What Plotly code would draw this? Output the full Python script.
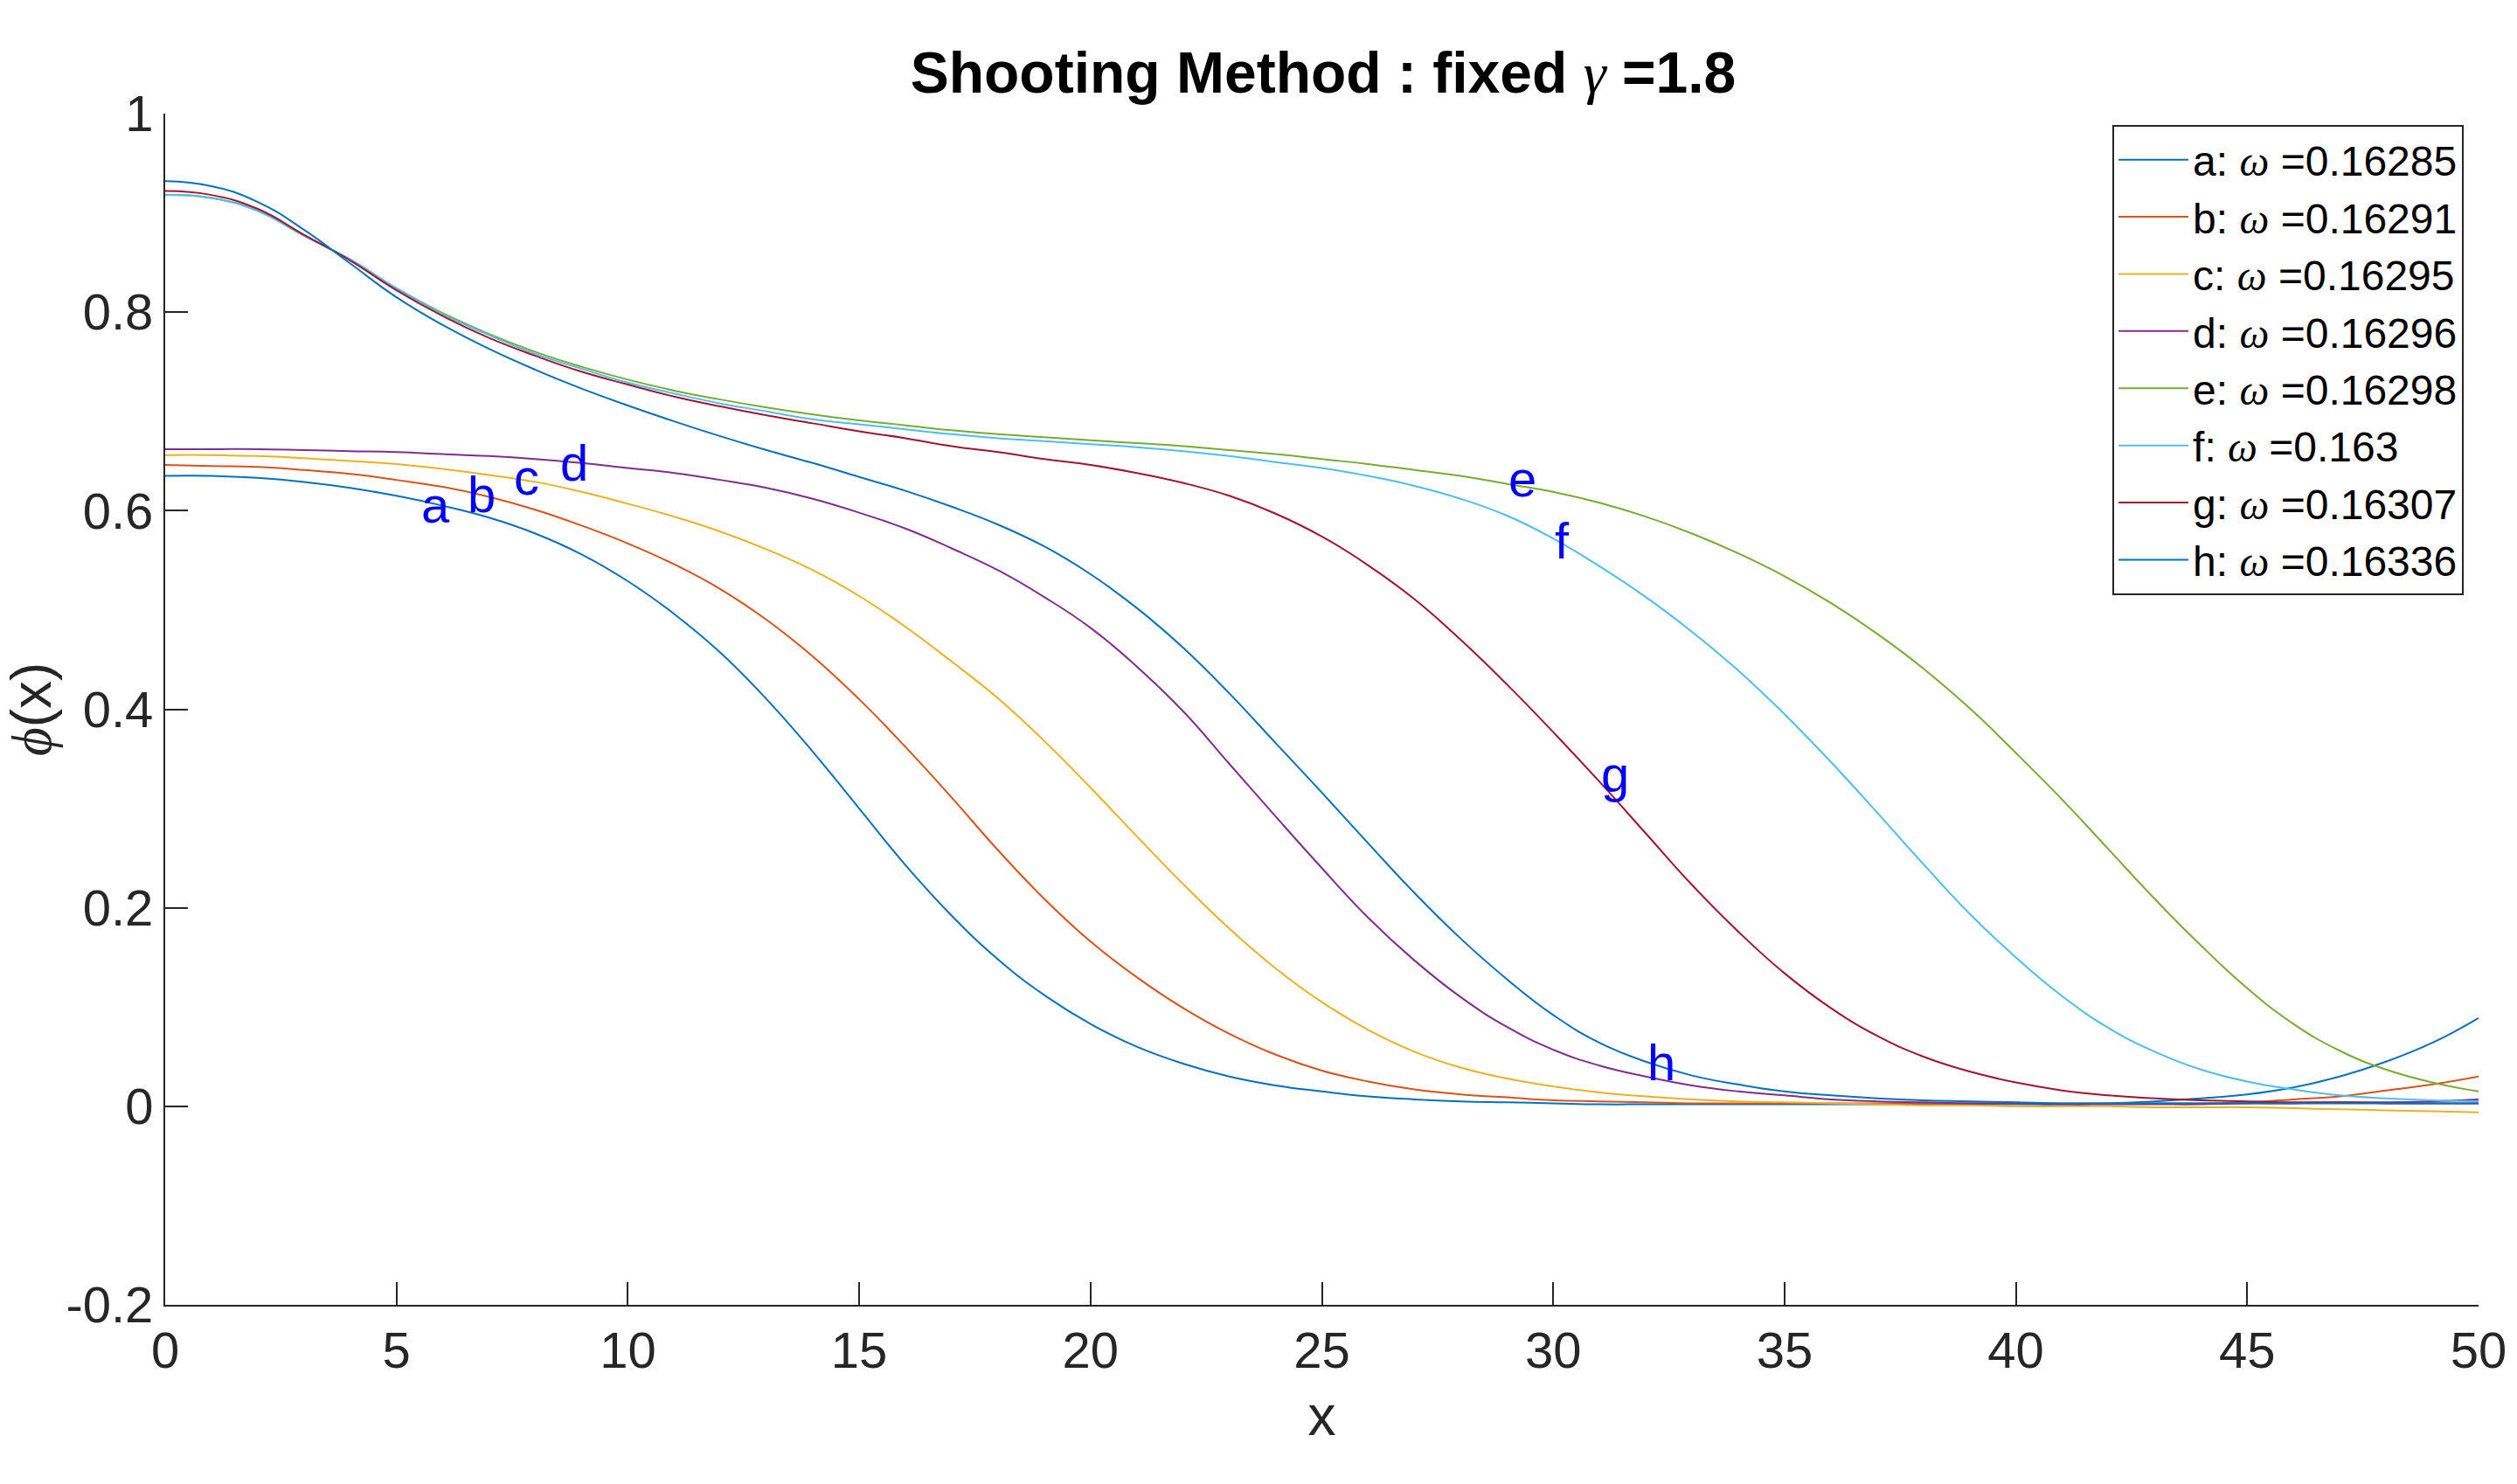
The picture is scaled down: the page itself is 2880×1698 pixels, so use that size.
import plotly.graph_objects as go

# ---------------- data ----------------
x_vals = [0, 1, 2, 3, 4, 5, 6, 7, 8, 9, 10, 11, 12, 13, 14, 15, 16, 17, 18, 19, 20,
          21, 22, 23, 24, 25, 26, 27, 28, 29, 30, 31, 32, 33, 34, 35, 36, 37, 38, 39, 40,
          41, 42, 43, 44, 45, 46, 47, 48, 49, 50]

a_vals = [0.635, 0.635, 0.633, 0.629, 0.623, 0.615, 0.605, 0.593, 0.577, 0.556, 0.529,
          0.496, 0.457, 0.410, 0.357, 0.300, 0.243, 0.192, 0.148, 0.112, 0.083,
          0.060, 0.043, 0.030, 0.021, 0.015, 0.010, 0.007, 0.005, 0.004, 0.003,
          0.002, 0.002, 0.002, 0.002, 0.002, 0.002, 0.002, 0.002, 0.002, 0.002,
          0.002, 0.003, 0.005, 0.008, 0.012, 0.019, 0.030, 0.045, 0.064, 0.089]
b_vals = [0.646, 0.645, 0.644, 0.641, 0.637, 0.631, 0.624, 0.614, 0.601, 0.585, 0.567,
          0.546, 0.521, 0.490, 0.453, 0.410, 0.362, 0.311, 0.258, 0.209, 0.166,
          0.130, 0.099, 0.073, 0.052, 0.036, 0.025, 0.017, 0.012, 0.009, 0.006,
          0.005, 0.004, 0.003, 0.003, 0.003, 0.003, 0.003, 0.003, 0.003, 0.003,
          0.003, 0.003, 0.003, 0.003, 0.004, 0.007, 0.010, 0.016, 0.022, 0.030]
c_vals = [0.656, 0.656, 0.655, 0.653, 0.650, 0.647, 0.642, 0.636, 0.629, 0.619, 0.607,
          0.594, 0.579, 0.561, 0.540, 0.514, 0.483, 0.448, 0.411, 0.368, 0.321,
          0.272, 0.224, 0.179, 0.139, 0.105, 0.077, 0.055, 0.039, 0.028, 0.020,
          0.014, 0.010, 0.007, 0.005, 0.004, 0.003, 0.002, 0.001, 0.001, 0.000,
          0.000, 0.000, -0.001, -0.001, -0.001, -0.002, -0.003, -0.004, -0.005, -0.006]
d_vals = [0.662, 0.662, 0.662, 0.661, 0.660, 0.659, 0.657, 0.655, 0.652, 0.648, 0.643,
          0.638, 0.631, 0.623, 0.612, 0.598, 0.582, 0.562, 0.540, 0.513, 0.482,
          0.443, 0.398, 0.345, 0.292, 0.240, 0.190, 0.147, 0.110, 0.080, 0.057,
          0.041, 0.030, 0.021, 0.015, 0.011, 0.007, 0.005, 0.004, 0.003, 0.003,
          0.002, 0.002, 0.002, 0.002, 0.003, 0.003, 0.004, 0.004, 0.005, 0.007]
e_vals = [0.918, 0.915, 0.902, 0.877, 0.853, 0.824, 0.799, 0.778, 0.760, 0.745, 0.732,
          0.721, 0.712, 0.704, 0.697, 0.691, 0.686, 0.681, 0.677, 0.674, 0.671,
          0.668, 0.665, 0.661, 0.657, 0.652, 0.647, 0.641, 0.635, 0.627, 0.619,
          0.608, 0.594, 0.577, 0.557, 0.534, 0.507, 0.476, 0.441, 0.401, 0.356,
          0.309, 0.259, 0.209, 0.162, 0.119, 0.083, 0.056, 0.037, 0.024, 0.015]
f_vals = [0.918, 0.915, 0.902, 0.877, 0.853, 0.824, 0.798, 0.777, 0.758, 0.743, 0.729,
          0.718, 0.708, 0.700, 0.692, 0.687, 0.682, 0.677, 0.673, 0.670, 0.667,
          0.664, 0.660, 0.655, 0.649, 0.643, 0.635, 0.625, 0.612, 0.595, 0.572,
          0.544, 0.513, 0.478, 0.439, 0.395, 0.347, 0.296, 0.244, 0.194, 0.150,
          0.111, 0.079, 0.055, 0.037, 0.025, 0.017, 0.011, 0.008, 0.006, 0.005]
g_vals = [0.922, 0.918, 0.904, 0.878, 0.852, 0.822, 0.796, 0.774, 0.756, 0.740, 0.727,
          0.715, 0.705, 0.696, 0.688, 0.680, 0.673, 0.665, 0.659, 0.652, 0.646,
          0.638, 0.628, 0.615, 0.597, 0.574, 0.545, 0.511, 0.470, 0.425, 0.377,
          0.327, 0.275, 0.223, 0.176, 0.134, 0.099, 0.071, 0.050, 0.035, 0.024,
          0.016, 0.011, 0.008, 0.006, 0.005, 0.004, 0.004, 0.003, 0.003, 0.003]
h_vals = [0.932, 0.927, 0.911, 0.883, 0.849, 0.815, 0.787, 0.763, 0.742, 0.723, 0.706,
          0.690, 0.675, 0.661, 0.648, 0.634, 0.620, 0.604, 0.586, 0.564, 0.536,
          0.502, 0.462, 0.416, 0.366, 0.316, 0.265, 0.215, 0.169, 0.128, 0.092,
          0.064, 0.045, 0.031, 0.022, 0.015, 0.011, 0.008, 0.006, 0.005, 0.004,
          0.003, 0.003, 0.003, 0.003, 0.003, 0.003, 0.003, 0.003, 0.003, 0.003]

series_keys = ["a", "b", "c", "d", "e", "f", "g", "h"]
series_vals = [a_vals, b_vals, c_vals, d_vals, e_vals, f_vals, g_vals, h_vals]
omega_labels = ["0.16285", "0.16291", "0.16295", "0.16296", "0.16298", "0.163", "0.16307", "0.16336"]
series_colors = ["#0072BD", "#D95319", "#EDB120", "#7E2F8E", "#77AC30", "#4DBEEE", "#A2142F", "#0072BD"]

# curve tags written inside the plot
tag_text = ["a", "b", "c", "d", "e", "f", "g", "h"]
tag_x = [5.5, 6.5, 7.5, 8.5, 29, 30, 31, 32]
tag_y = [0.606, 0.617, 0.634, 0.648, 0.632, 0.570, 0.335, 0.044]

x_ticks = [0, 5, 10, 15, 20, 25, 30, 35, 40, 45, 50]
y_ticks = [-0.2, 0, 0.2, 0.4, 0.6, 0.8, 1]
y_tick_text = ["-0.2", "0", "0.2", "0.4", "0.6", "0.8", "1"]

# ---------------- figure ----------------
FONT = "Liberation Sans, Arial, Helvetica, sans-serif"
AXC = "#262626"


def tex(sym):
    """Greek symbol rendered italic in a serif face, like MATLAB's TeX interpreter."""
    return f"<span style='font-family:Liberation Serif, DejaVu Serif, serif'><i>{sym}</i></span>"


fig = go.Figure()
for key, vals, om, col in zip(series_keys, series_vals, omega_labels, series_colors):
    fig.add_trace(go.Scatter(
        x=x_vals, y=vals, mode="lines",
        line=dict(color=col, width=2, shape="spline", smoothing=1.3),
        name=f"{key}: {tex('ω')} ={om}",
    ))

for t, tx, ty in zip(tag_text, tag_x, tag_y):
    fig.add_annotation(x=tx, y=ty, text=t, showarrow=False, xanchor="left", yanchor="middle",
                       font=dict(family=FONT, size=58, color="#0000FF"))

fig.update_layout(
    width=2880, height=1698,
    margin=dict(l=189, r=40, t=130, b=205),
    plot_bgcolor="white", paper_bgcolor="white",
    font=dict(family=FONT, color=AXC),
    title=dict(
        text="<b>Shooting Method : fixed </b>" + tex("γ") + "<b> =1.8</b>",
        x=(189 + 1325) / 2880, xanchor="center", y=1 - 83 / 1698, yanchor="middle",
        font=dict(family=FONT, size=66, color="#000000"),
    ),
    legend=dict(
        x=0.9936, y=0.9905, xanchor="right", yanchor="top",
        bgcolor="white", bordercolor=AXC, borderwidth=2,
        font=dict(family=FONT, size=48, color="#000000"),
        tracegroupgap=0, itemwidth=80,
    ),
    xaxis=dict(
        range=[0, 50], tickvals=x_ticks, ticks="inside", ticklen=26, tickwidth=2, tickcolor=AXC,
        showline=True, linewidth=2, linecolor=AXC, showgrid=False, zeroline=False, mirror=False,
        tickfont=dict(family=FONT, size=58, color=AXC),
        title=dict(text="x", font=dict(family=FONT, size=64, color=AXC), standoff=22),
    ),
    yaxis=dict(
        range=[-0.2, 1], tickvals=y_ticks, ticktext=y_tick_text, ticks="inside", ticklen=26, tickwidth=2,
        tickcolor=AXC, showline=True, linewidth=2, linecolor=AXC, showgrid=False, zeroline=False,
        mirror=False,
        tickfont=dict(family=FONT, size=58, color=AXC),
        title=dict(text=tex("ϕ") + "(x)", font=dict(family=FONT, size=64, color=AXC), standoff=10),
    ),
)

fig.write_html("out.html", config={"displayModeBar": False},
               post_script="document.body.style.margin='0px';document.body.style.overflow='hidden';")
